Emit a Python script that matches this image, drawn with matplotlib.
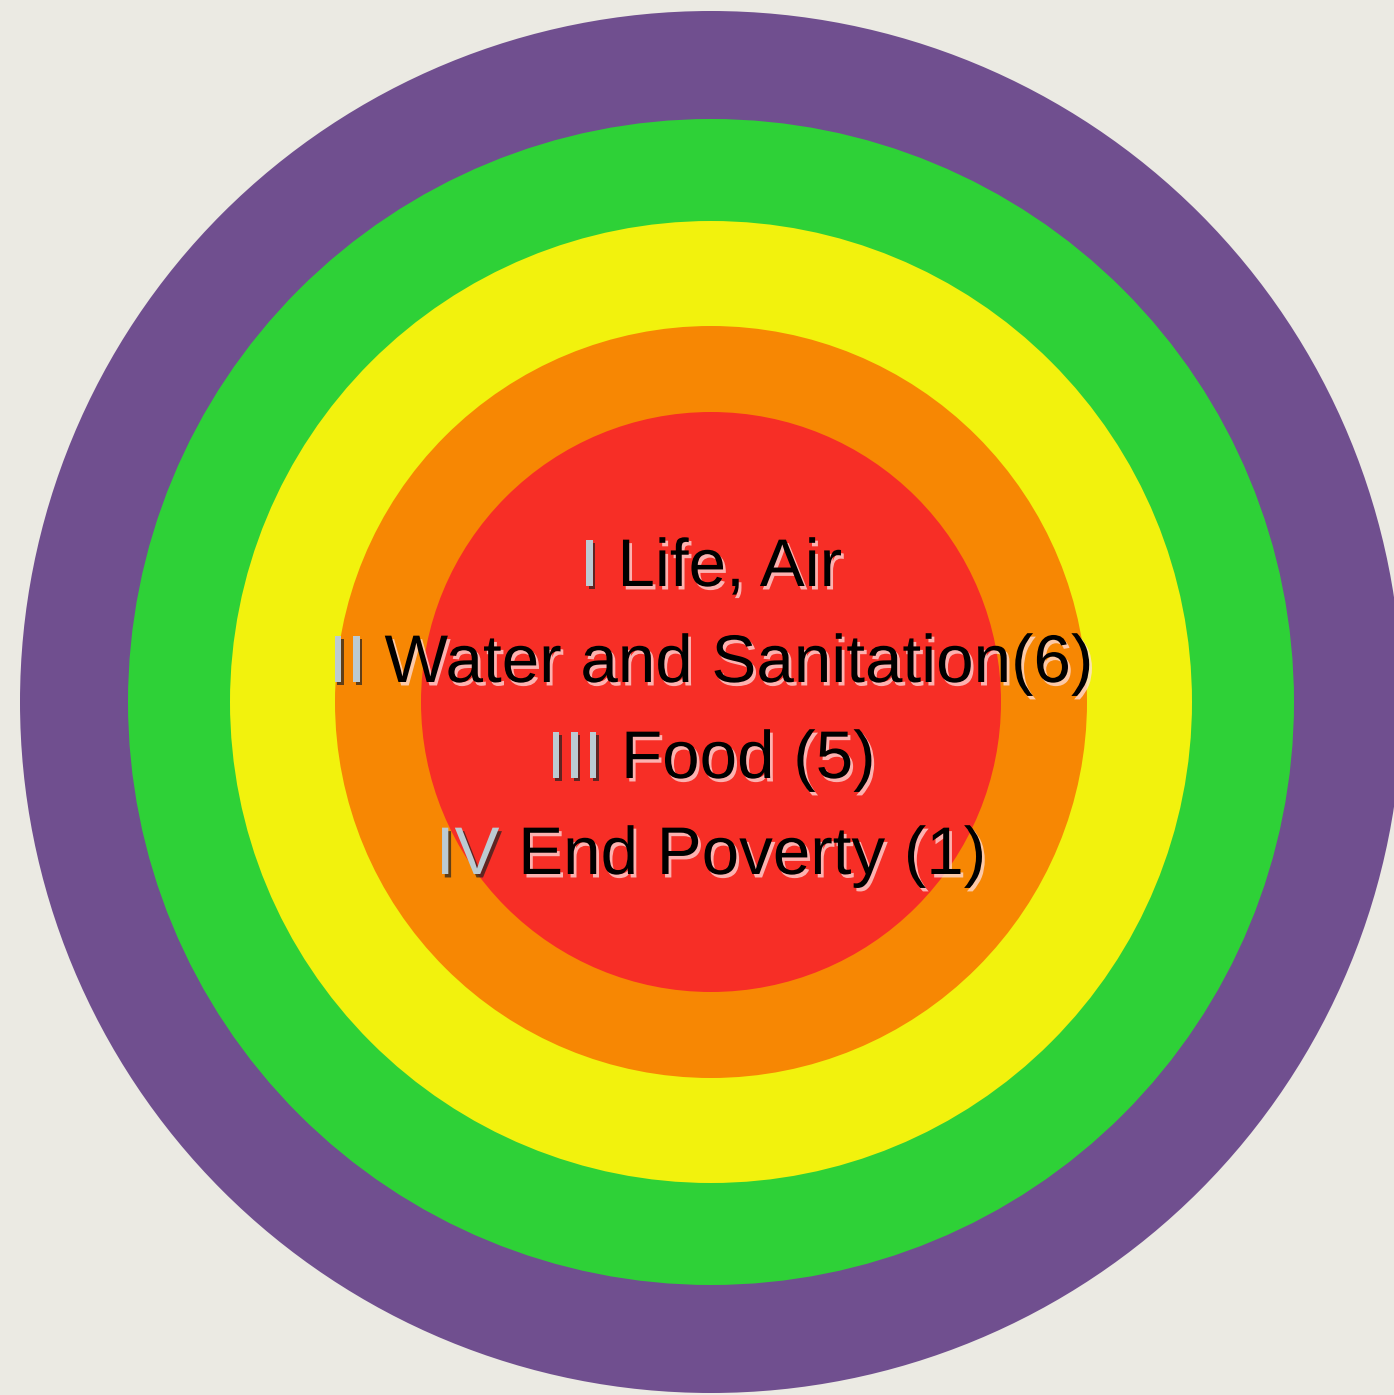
import matplotlib
matplotlib.use("Agg")
import matplotlib.pyplot as plt
from matplotlib.patches import Circle
import matplotlib.patheffects as pe

# rings, from outside to inside (radius in px)
ring_radii = [691, 583, 481, 376, 290]
ring_colors = ["#704f8f", "#2ed137", "#f2f20d", "#f78703", "#f72e26"]

# label lines: roman numeral + text
numerals = ["I", "II", "III", "IV"]
labels = ["Life, Air", "Water and Sanitation(6)", "Food (5)", "End Poverty (1)"]
baselines = [586, 682, 778, 874]

W, H = 1394, 1395
cx, cy = 711, 702

fig = plt.figure(figsize=(W / 100, H / 100), dpi=100)
fig.patch.set_facecolor("#ebeae3")
ax = fig.add_axes([0, 0, 1, 1])
ax.set_xlim(0, W)
ax.set_ylim(H, 0)
ax.set_aspect("equal")
ax.axis("off")

for r, c in zip(ring_radii, ring_colors):
    ax.add_patch(Circle((cx, cy), r, facecolor=c, edgecolor="none"))

fs = 48.5
font = "Liberation Sans"
light_fx = [pe.withSimplePatchShadow(offset=(2, -2.5), shadow_rgbFace="#ffe0e0", alpha=0.75)]
dark_fx = [pe.withSimplePatchShadow(offset=(2, -2.5), shadow_rgbFace="#202020", alpha=0.7)]

parts = []
for num, lab, y in zip(numerals, labels, baselines):
    t1 = ax.text(0, y, num + " ", fontsize=fs, family=font, color="#bccbd2",
                 va="baseline", ha="left", path_effects=dark_fx)
    t2 = ax.text(0, y, lab, fontsize=fs, family=font, color="black",
                 va="baseline", ha="left", path_effects=light_fx)
    parts.append((t1, t2))

fig.canvas.draw()
rend = fig.canvas.get_renderer()
for t1, t2 in parts:
    w1 = t1.get_window_extent(rend).width
    w2 = t2.get_window_extent(rend).width
    x0 = cx - (w1 + w2) / 2
    t1.set_x(x0)
    t2.set_x(x0 + w1)

fig.savefig("out.png", dpi=100, facecolor=fig.get_facecolor())
